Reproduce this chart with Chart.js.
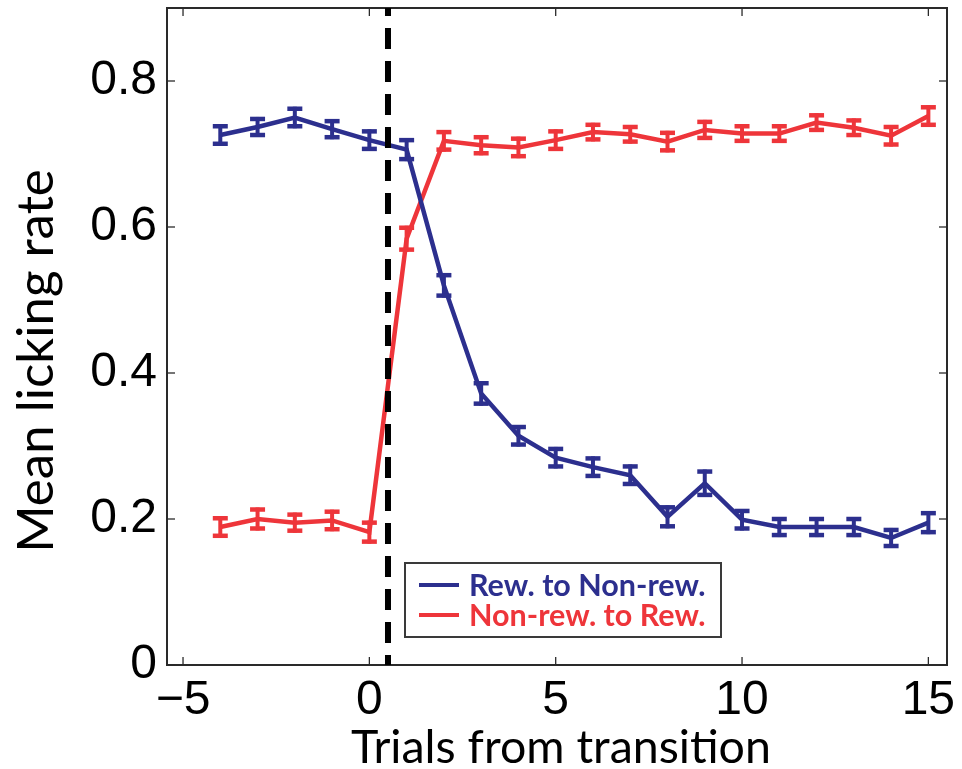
<!DOCTYPE html>
<html>
<head>
<meta charset="utf-8">
<script src="https://cdn.jsdelivr.net/npm/chart.js@4.4.1/dist/chart.umd.min.js"></script>
<style>
  html, body { margin: 0; padding: 0; background: #ffffff; }
  #wrap { width: 962px; height: 769px; }
</style>
</head>
<body>
<div id="wrap"><canvas id="c" width="962" height="769"></canvas></div>
<script>
// ---- data ----
const trials = [-4, -3, -2, -1, 0, 1, 2, 3, 4, 5, 6, 7, 8, 9, 10, 11, 12, 13, 14, 15];
const rewToNonRew    = [0.726, 0.737, 0.750, 0.734, 0.719, 0.706, 0.520, 0.372, 0.314, 0.284, 0.271, 0.260, 0.203, 0.249, 0.199, 0.189, 0.189, 0.189, 0.174, 0.195];
const rewToNonRewErr = [0.012, 0.011, 0.012, 0.011, 0.012, 0.013, 0.014, 0.014, 0.012, 0.012, 0.012, 0.012, 0.013, 0.016, 0.012, 0.011, 0.011, 0.011, 0.011, 0.013];
const nonRewToRew    = [0.189, 0.200, 0.195, 0.198, 0.182, 0.584, 0.718, 0.712, 0.709, 0.719, 0.730, 0.727, 0.717, 0.733, 0.728, 0.728, 0.743, 0.736, 0.725, 0.752];
const nonRewToRewErr = [0.012, 0.013, 0.011, 0.012, 0.013, 0.015, 0.012, 0.011, 0.012, 0.012, 0.010, 0.010, 0.012, 0.011, 0.010, 0.010, 0.010, 0.010, 0.012, 0.012];
const seriesLabels = ['Rew. to Non-rew.', 'Non-rew. to Rew.'];
const transitionX = 0.5;
const xTicks = [-5, 0, 5, 10, 15];
const xTickLabels = ['\u22125', '0', '5', '10', '15'];
const yTicks = [0, 0.2, 0.4, 0.6, 0.8];
const yTickLabels = ['0', '0.2', '0.4', '0.6', '0.8'];
const xTitle = 'Trials from transition';
const yTitle = 'Mean licking rate';

// ---- style ----
const BLUE = '#2c2f8e';
const RED = '#ee353a';
const X_MIN = -5.43, X_MAX = 15.5, Y_MIN = 0, Y_MAX = 0.9;

const toPoints = (ys) => trials.map((t, i) => ({ x: t, y: ys[i] }));

const errorBarPlugin = {
  id: 'errorBars',
  afterDatasetDraw(chart, args) {
    const ds = chart.data.datasets[args.index];
    if (!ds.errors) return;
    const xs = chart.scales.x, ys = chart.scales.y, ctx = chart.ctx;
    ctx.save();
    ctx.strokeStyle = ds.borderColor;
    ctx.lineCap = 'butt';
    ds.data.forEach((p, i) => {
      const e = ds.errors[i];
      const px = xs.getPixelForValue(p.x);
      const yt = ys.getPixelForValue(p.y + e);
      const yb = ys.getPixelForValue(p.y - e);
      ctx.lineWidth = 4;
      ctx.beginPath(); ctx.moveTo(px, yt - 2); ctx.lineTo(px, yb + 2); ctx.stroke();
      ctx.lineWidth = 4.5;
      [yt, yb].forEach(yy => {
        ctx.beginPath(); ctx.moveTo(px - 7.5, yy); ctx.lineTo(px + 7.5, yy); ctx.stroke();
      });
    });
    ctx.restore();
  }
};

const framePlugin = {
  id: 'frame',
  beforeDatasetsDraw(chart) {
    const { ctx, chartArea: a, scales: { x, y } } = chart;
    ctx.save();
    ctx.strokeStyle = '#2a2a2a';
    ctx.lineWidth = 2;
    ctx.strokeRect(a.left, a.top, a.right - a.left, a.bottom - a.top);
    ctx.lineWidth = 1.3;
    const seg = (x1, y1, x2, y2) => { ctx.beginPath(); ctx.moveTo(x1, y1); ctx.lineTo(x2, y2); ctx.stroke(); };
    xTicks.forEach(v => {
      const px = x.getPixelForValue(v);
      seg(px, a.bottom, px, a.bottom - 8);
      seg(px, a.top, px, a.top + 8);
    });
    yTicks.forEach(v => {
      const py = y.getPixelForValue(v);
      seg(a.left, py, a.left + 8, py);
      seg(a.right, py, a.right - 8, py);
    });
    ctx.restore();
  }
};

const titlePlugin = {
  id: 'axisTitles',
  afterDraw(chart) {
    const ctx = chart.ctx;
    ctx.save();
    ctx.fillStyle = '#000000';
    ctx.textAlign = 'center';
    ctx.textBaseline = 'alphabetic';
    ctx.font = '46.5px Lato';
    ctx.fillText(xTitle, 561, 763);
    ctx.translate(53, 361);
    ctx.rotate(-Math.PI / 2);
    ctx.font = '51px Lato';
    ctx.fillText(yTitle, 0, 0);
    ctx.restore();
  }
};

const legendPlugin = {
  id: 'boxLegend',
  afterDatasetsDraw(chart) {
    const { ctx, chartArea: a } = chart;
    const left = a.left + 238, top = 563, w = 316, h = 74;
    ctx.save();
    ctx.fillStyle = '#ffffff';
    ctx.fillRect(left, top, w, h);
    ctx.strokeStyle = '#3a3a3a';
    ctx.lineWidth = 2;
    ctx.strokeRect(left, top, w, h);
    ctx.font = 'bold 30.5px Lato';
    ctx.textBaseline = 'alphabetic';
    [0, 1].forEach(i => {
      const ds = chart.data.datasets[i];
      const rowY = top + 22 + i * 30;
      ctx.strokeStyle = ds.borderColor;
      ctx.lineWidth = 4;
      ctx.beginPath(); ctx.moveTo(left + 14, rowY); ctx.lineTo(left + 54, rowY); ctx.stroke();
      ctx.fillStyle = ds.borderColor;
      ctx.fillText(ds.label, left + 64, rowY + 11);
    });
    ctx.restore();
  }
};

const noPad = s => { s.paddingTop = 0; s.paddingBottom = 0; s.paddingLeft = 0; s.paddingRight = 0; };

new Chart(document.getElementById('c'), {
  type: 'line',
  data: {
    datasets: [
      {
        label: seriesLabels[0],
        data: toPoints(rewToNonRew),
        errors: rewToNonRewErr,
        borderColor: BLUE,
        backgroundColor: BLUE,
        borderWidth: 4.5,
        pointRadius: 0,
        tension: 0,
        order: 1
      },
      {
        label: seriesLabels[1],
        data: toPoints(nonRewToRew),
        errors: nonRewToRewErr,
        borderColor: RED,
        backgroundColor: RED,
        borderWidth: 4.5,
        pointRadius: 0,
        tension: 0,
        order: 2
      },
      {
        label: 'transition',
        data: [{ x: transitionX, y: Y_MAX }, { x: transitionX, y: Y_MIN }],
        borderColor: '#000000',
        borderWidth: 6,
        borderDash: [21, 12],
        borderDashOffset: 13,
        pointRadius: 0,
        order: 0,
        clip: 4
      }
    ]
  },
  options: {
    responsive: false,
    animation: false,
    devicePixelRatio: 1,
    layout: { padding: { top: 8, right: 15, left: 0, bottom: 0 } },
    plugins: { legend: { display: false }, tooltip: { enabled: false } },
    scales: {
      x: {
        type: 'linear',
        min: X_MIN,
        max: X_MAX,
        grid: { display: false, drawTicks: false },
        border: { display: false },
        afterBuildTicks: s => { s.ticks = xTicks.map(v => ({ value: v })); },
        afterFit: s => { s.height = 104; noPad(s); },
        ticks: {
          autoSkip: false,
          maxRotation: 0,
          padding: 7,
          color: '#000000',
          font: { family: 'Liberation Sans', size: 48 },
          callback: v => xTickLabels[xTicks.indexOf(v)]
        },
        title: { display: false }
      },
      y: {
        type: 'linear',
        min: Y_MIN,
        max: Y_MAX,
        grid: { display: false, drawTicks: false },
        border: { display: false },
        afterBuildTicks: s => { s.ticks = yTicks.map(v => ({ value: v })); },
        afterFit: s => { s.width = 167; noPad(s); },
        ticks: {
          autoSkip: false,
          padding: 10,
          color: '#000000',
          font: { family: 'Liberation Sans', size: 48 },
          callback: v => yTickLabels[yTicks.indexOf(v)]
        },
        title: { display: false }
      }
    }
  },
  plugins: [framePlugin, errorBarPlugin, legendPlugin, titlePlugin]
});
</script>
</body>
</html>
